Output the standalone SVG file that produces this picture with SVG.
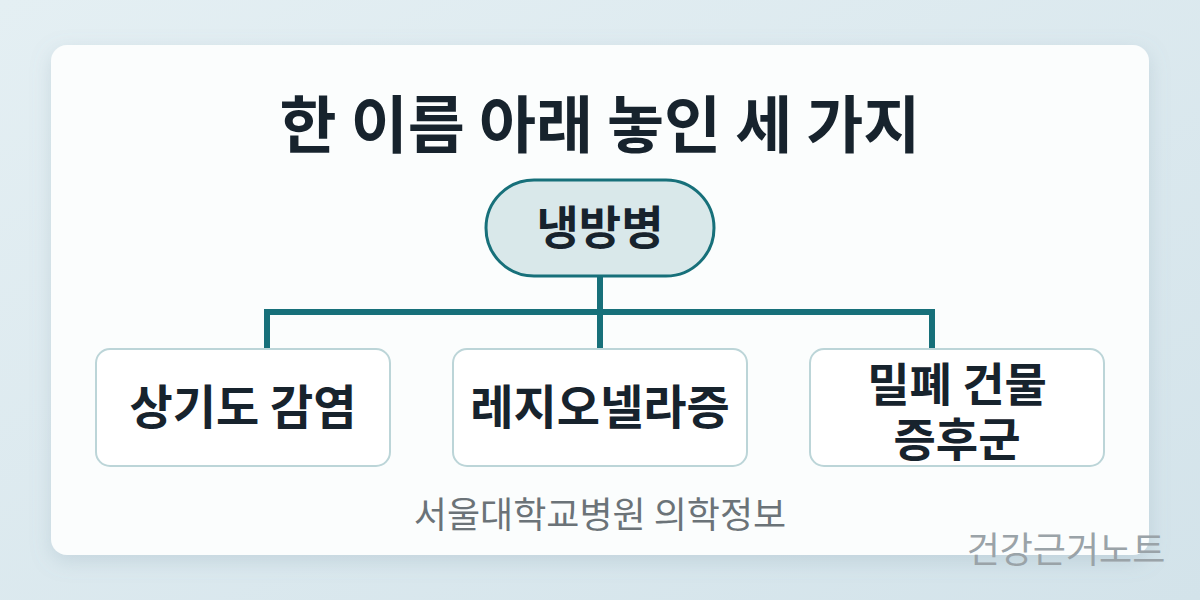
<svg xmlns="http://www.w3.org/2000/svg" width="1200" height="600" viewBox="0 0 1200 600">
<defs>
<linearGradient id="bg" x1="0" y1="0" x2="1" y2="1"><stop offset="0" stop-color="#e4eff3"/><stop offset="1" stop-color="#d3e3ea"/></linearGradient>
<filter id="sh" x="-10%" y="-10%" width="120%" height="130%"><feDropShadow dx="0" dy="6" stdDeviation="10" flood-color="#7a98a8" flood-opacity="0.25"/></filter>
<style>
text{font-family:"Noto Sans CJK KR","Noto Sans",sans-serif;text-anchor:middle}
.b{font-weight:700;fill:#17232d}
.box{fill:#fff;stroke:#bcd5d8;stroke-width:2}
.c{stroke:#17707a;stroke-width:6;fill:none}
</style>
</defs>
<rect width="1200" height="600" fill="url(#bg)"/>
<rect x="51" y="45" width="1098" height="510" rx="16" fill="#fbfdfd" filter="url(#sh)"/>
<text class="b" x="600" y="148" font-size="62">한 이름 아래 놓인 세 가지</text>
<g id="connectors">
<path class="c" d="M600 276V312M267 348V312H932V348M600 312V348"/>
</g>
<g id="root"><rect x="486" y="180" width="228" height="96" rx="48" fill="#d9e8ea" stroke="#17707a" stroke-width="3"/><text class="b" x="600" y="244" font-size="46">냉방병</text></g>
<g id="n1"><rect class="box" x="96" y="349" width="294" height="117" rx="14"/><text class="b" x="243" y="424" font-size="47">상기도 감염</text></g>
<g id="n2"><rect class="box" x="453" y="349" width="294" height="117" rx="14"/><text class="b" x="600" y="424" font-size="47">레지오넬라증</text></g>
<g id="n3"><rect class="box" x="810" y="349" width="294" height="117" rx="14"/><text class="b" x="957" y="401" font-size="46">밀폐 건물</text><text class="b" x="957" y="456" font-size="46">증후군</text></g>
<text x="600" y="528" font-size="36" fill="#6b7378">서울대학교병원 의학정보</text>
<text x="1066" y="563" font-size="36" fill="#9aa3a8">건강근거노트</text>
</svg>
